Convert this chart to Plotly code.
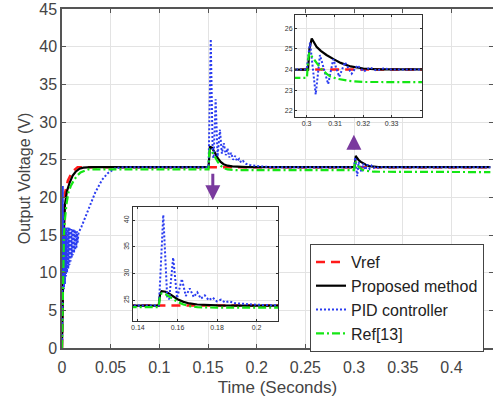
import plotly.graph_objects as go

# ---------------- data ----------------
vref_t = [0, 0.001, 0.003, 0.006, 0.010, 0.016, 0.44]
vref_v = [0, 12, 20.5, 22.2, 23.3, 24, 24]

prop_t = [0, 0.0005, 0.001, 0.002, 0.003, 0.005, 0.008, 0.011, 0.014, 0.018, 0.022, 0.026, 0.03,
          0.1505, 0.1512, 0.152, 0.154, 0.156, 0.158, 0.16, 0.163, 0.166, 0.17, 0.175, 0.18, 0.19,
          0.3005, 0.301, 0.3018, 0.3025, 0.3035, 0.305, 0.307, 0.3095, 0.312, 0.3155, 0.32, 0.325, 0.33, 0.44]
prop_v = [0, 5, 10, 16, 19, 20.8, 22, 22.9, 23.4, 23.8, 23.95, 24, 24,
          24, 26.2, 26.7, 26.6, 26.2, 25.7, 25.2, 24.7, 24.4, 24.2, 24.1, 24.05, 24,
          24, 25.0, 25.5, 25.35, 25.1, 24.9, 24.7, 24.5, 24.32, 24.15, 24.05, 24.01, 24, 24]

pid_t = [0, 0.0004, 0.0008, 0.0012, 0.0016, 0.002, 0.0025, 0.003, 0.0035, 0.004, 0.0046, 0.0052,
         0.0058, 0.0064, 0.007, 0.0076, 0.0082, 0.0088, 0.0094, 0.01, 0.0106, 0.0112, 0.0118,
         0.0124, 0.013, 0.0136, 0.0142, 0.0148, 0.0154, 0.016, 0.017, 0.02, 0.027, 0.034, 0.041,
         0.047, 0.055, 0.065, 0.08,
         0.1505, 0.151, 0.1528, 0.1548, 0.1558, 0.1578, 0.1598, 0.1622, 0.1642, 0.1662, 0.1682,
         0.1700, 0.1718, 0.1738, 0.1758, 0.1778, 0.1798, 0.182, 0.184, 0.186, 0.189, 0.193, 0.2,
         0.21, 0.22,
         0.3000, 0.3012, 0.3032, 0.3047, 0.3076, 0.3094, 0.3115, 0.3135, 0.3159, 0.3179, 0.3202,
         0.3223, 0.3247, 0.327, 0.33, 0.44]
pid_v = [0, 14, 21.5, 9, 17, 7.8, 16, 8.5, 16, 9.5, 16, 10,
         16, 10.5, 16, 11, 16, 11.5, 15.8, 12, 15.8, 12.3, 15.8,
         12.6, 15.7, 13, 15.6, 13.3, 15.5, 14, 15.3, 16.1, 18.3, 20.6, 22.3,
         23.2, 23.9, 24, 24,
         24, 27, 41, 25.5, 25.2, 33, 25.4, 29, 25.8, 27.2, 25.6,
         26.5, 25.3, 25.9, 25.0, 25.5, 24.8, 25.1, 24.6, 24.8, 24.45, 24.3, 24.15,
         24.05, 24,
         24, 25.3, 22.8, 24.7, 23.3, 24.5, 23.65, 24.35, 23.8, 24.2, 23.9,
         24.1, 23.95, 24.05, 24, 24]

ref13_t = [0, 0.0005, 0.001, 0.0015, 0.002, 0.003, 0.0045, 0.0065, 0.009, 0.012, 0.015, 0.019,
           0.023, 0.027, 0.032,
           0.1505, 0.1512, 0.152, 0.154, 0.156, 0.158, 0.16, 0.163, 0.166, 0.17, 0.18,
           0.3001, 0.3005, 0.3009, 0.302, 0.3035, 0.305, 0.307, 0.3085, 0.311, 0.315, 0.32, 0.44]
ref13_v = [0, 4, 8, 12, 15, 17, 19, 20.6, 21.5, 22.2, 22.8, 23.3,
           23.55, 23.7, 23.7,
           23.7, 25.8, 26.3, 26.1, 25.6, 25.1, 24.7, 24.2, 23.9, 23.7, 23.6,
           23.6, 24.4, 24.8, 24.6, 24.3, 24.05, 23.8, 23.65, 23.55, 23.45, 23.4, 23.35]

series = [
    ("Vref", vref_t, vref_v, dict(color="#ff1a1a", width=2.5, dash="9px,6px")),
    ("Proposed method", prop_t, prop_v, dict(color="#000000", width=2.2)),
    ("PID controller", pid_t, pid_v, dict(color="#2a3cf0", width=2, dash="2px,2px")),
    ("Ref[13]", ref13_t, ref13_v, dict(color="#14e614", width=2.2, dash="8px,3px,2px,3px")),
]

main_ticks_x = [0, 0.05, 0.1, 0.15, 0.2, 0.25, 0.3, 0.35, 0.4]
main_ticks_y = [0, 5, 10, 15, 20, 25, 30, 35, 40, 45]
inset1_ticks_x = [0.3, 0.31, 0.32, 0.33]
inset1_ticks_y = [22, 23, 24, 25, 26]
inset2_ticks_x = [0.14, 0.16, 0.18, 0.2]
inset2_ticks_y = [25, 30, 35, 40]

fig = go.Figure()
for axes_i, (xa, ya) in enumerate([("x", "y"), ("x2", "y2"), ("x3", "y3")]):
    for i, (name, t, v, line) in enumerate(series):
        fig.add_trace(go.Scatter(
            x=t, y=v, mode="lines", name=name, line=line,
            xaxis=xa, yaxis=ya, showlegend=(axes_i == 0),
            legendgroup=name, hoverinfo="skip"))

FONT = "Liberation Sans, Arial, sans-serif"
gridc = "#e3e3e3"
axc = "#555555"

main_ax = dict(showline=True, linecolor=axc, linewidth=1.5, mirror="ticks",
               ticks="inside", ticklen=4, tickcolor=axc, showgrid=True,
               gridcolor=gridc, gridwidth=1, zeroline=False, automargin=False,
               tickfont=dict(size=16, color="#444444", family=FONT))
inset_ax = dict(showline=True, linecolor="#333333", linewidth=1, mirror="ticks",
                ticks="inside", ticklen=2, tickcolor="#333333", showgrid=True,
                gridcolor=gridc, gridwidth=1, zeroline=False, automargin=False,
                tickfont=dict(size=7, color="#333333", family=FONT))

fig.update_layout(
    width=493, height=400,
    margin=dict(l=62, r=0, t=9, b=52, autoexpand=False),
    paper_bgcolor="white", plot_bgcolor="white",
    font=dict(family=FONT),
    xaxis=dict(main_ax, range=[0, 0.4427], tickvals=main_ticks_x, ticklabelstandoff=4,
               title=dict(text="Time (Seconds)", font=dict(size=17, color="#444444"), standoff=6)),
    yaxis=dict(main_ax, range=[0, 45], tickvals=main_ticks_y,
               title=dict(text="Output Voltage (V)", font=dict(size=16, color="#444444"), standoff=5)),
    xaxis2=dict(inset_ax, domain=[0.5406, 0.8353], anchor="y2", range=[0.2959, 0.3407],
                tickvals=inset1_ticks_x),
    yaxis2=dict(inset_ax, domain=[0.6814, 0.9823], anchor="x2", range=[21.71, 26.63],
                tickvals=inset1_ticks_y),
    xaxis3=dict(inset_ax, domain=[0.1647, 0.5012], anchor="y3", range=[0.1375, 0.2108],
                tickvals=inset2_ticks_x),
    yaxis3=dict(inset_ax, domain=[0.0796, 0.4159], anchor="x3", range=[21.1, 42.5],
                tickvals=inset2_ticks_y, tickangle=-90),
    legend=dict(x=0.5754, y=0.3068, xanchor="left", yanchor="top",
                bgcolor="white", bordercolor="#444444", borderwidth=1,
                font=dict(size=16, color="#222222", family=FONT),
                traceorder="normal", tracegroupgap=0),
    showlegend=True,
)

arrow_col = "#7a3a9e"
fig.add_annotation(x=0.1549, y=19.6, xref="x", yref="y", ax=0, ay=-28, text="",
                   showarrow=True, arrowhead=2, arrowsize=1, arrowwidth=3, arrowcolor=arrow_col)
fig.add_annotation(x=0.2998, y=28.3, xref="x", yref="y", ax=0, ay=16, text="",
                   showarrow=True, arrowhead=2, arrowsize=1, arrowwidth=3, arrowcolor=arrow_col)

fig.write_html("out.html", config={"displayModeBar": False},
               post_script="document.body.style.margin='0';document.body.style.padding='0';")
